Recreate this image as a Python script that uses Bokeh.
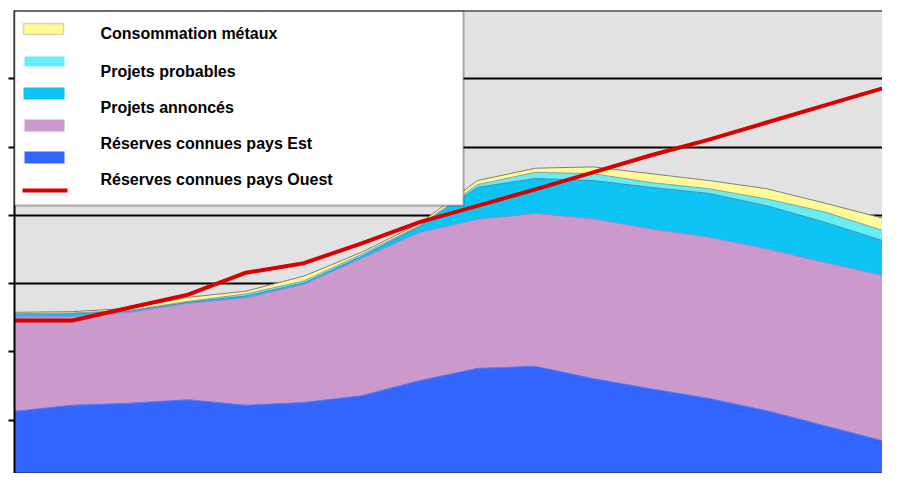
import numpy as np
from bokeh.plotting import figure
from bokeh.models import FixedTicker, BoxAnnotation, Label, Span, Range1d, ColumnDataSource
from bokeh.embed import file_html
from bokeh.resources import INLINE

# ---- data (arbitrary units, 0..7 scale) ----
periodes = list(range(16))
reserves_base = [1.13, 1.22, 1.25, 1.30, 1.22, 1.26, 1.36, 1.58, 1.76, 1.79, 1.61, 1.46, 1.32, 1.14, 0.92, 0.70]
reserves_est = [1.38, 1.30, 1.33, 1.41, 1.57, 1.73, 2.01, 2.17, 2.18, 2.24, 2.34, 2.34, 2.36, 2.37, 2.39, 2.42]
projets_annonces = [0.04, 0.04, 0.02, 0.02, 0.03, 0.02, 0.03, 0.09, 0.47, 0.51, 0.56, 0.61, 0.64, 0.63, 0.59, 0.51]
projets_probables = [0.01, 0.01, 0.01, 0.01, 0.03, 0.03, 0.03, 0.01, 0.04, 0.09, 0.10, 0.07, 0.07, 0.10, 0.15, 0.15]
consommation = [0.02, 0.02, 0.03, 0.06, 0.04, 0.07, 0.03, 0.03, 0.06, 0.06, 0.10, 0.13, 0.12, 0.15, 0.13, 0.18]
reserves_ouest = [2.46, 2.46, 2.65, 2.84, 3.16, 3.30, 3.59, 3.90, 4.14, 4.38, 4.63, 4.88, 5.11, 5.36, 5.61, 5.86]
y_ticks = [1, 2, 3, 4, 5, 6]

legend_labels = ["Consommation métaux", "Projets probables", "Projets annoncés",
                 "Réserves connues pays Est", "Réserves connues pays Ouest"]

# ---- colours ----
C_BASE = "#3366FF"
C_EST = "#CC99CC"
C_ANN = "#0DC4F5"
C_PROB = "#66EEF5"
C_CONS = "#FFFA96"
C_RED = "#D90000"

W, H = 882, 473
TOP = 10
LEFT = 14
FRAME_H = H - TOP
Y_START = 0.22   # lower bound of the visible value range (the bottom of the chart is cut)

src = ColumnDataSource(dict(x=periodes, base=reserves_base, est=reserves_est, ann=projets_annonces,
                            prob=projets_probables, cons=consommation, ouest=reserves_ouest))

p = figure(width=W, height=H, output_backend="svg", toolbar_location=None,
           x_range=Range1d(0, 15), y_range=Range1d(Y_START, 7), x_axis_location=None,
           min_border_left=LEFT, min_border_right=0, min_border_top=TOP, min_border_bottom=0,
           background_fill_color="#E2E2E2", border_fill_color="white", outline_line_color=None)

# axis (no labels, outward ticks)
p.yaxis.ticker = FixedTicker(ticks=y_ticks)
p.yaxis.major_label_overrides = {t: "" for t in y_ticks}
p.yaxis.major_label_standoff = 0
p.yaxis.major_tick_out = 6
p.yaxis.major_tick_in = 0
p.yaxis.minor_tick_line_color = None
p.yaxis.axis_line_width = 2
p.yaxis.major_tick_line_width = 2
p.yaxis.axis_line_color = "black"
p.yaxis.major_tick_line_color = "black"

p.xgrid.visible = False
p.ygrid.ticker = FixedTicker(ticks=y_ticks)
p.ygrid.grid_line_color = "black"
p.ygrid.grid_line_width = 2

# stacked areas
p.varea_stack(["base", "est", "ann", "prob", "cons"], x="x", source=src,
              color=[C_BASE, C_EST, C_ANN, C_PROB, C_CONS])

cum = np.cumsum(np.array([reserves_base, reserves_est, projets_annonces, projets_probables, consommation]), axis=0)
edge_colors = ["#5577EE", "#9A88D0", "#3D8FB8", "#8A9FA6", "#7F7F7F"]
for i, col in enumerate(edge_colors):
    p.line(periodes, cum[i], line_color=col, line_width=1)

# red line
p.line("x", "ouest", source=src, line_color=C_RED, line_width=4)

# frame top / bottom lines
p.add_layout(Span(location=7, dimension="width", line_color="black", line_width=2, level="overlay"))
p.add_layout(Span(location=Y_START, dimension="width", line_color="#222222", line_width=2, level="overlay"))

# ---- manual legend (screen units, relative to the frame) ----
def box(l, r, t, b, fill, line=None, lw=1):
    p.add_layout(BoxAnnotation(left=l, right=r, top=FRAME_H - t, bottom=FRAME_H - b,
                               left_units="screen", right_units="screen",
                               top_units="screen", bottom_units="screen",
                               fill_color=fill, fill_alpha=1.0,
                               line_color=line, line_width=lw, level="annotation"))

box(0, 449, 0, 195, "white", "black", 2)
box(9, 49, 13, 24, C_CONS, "#7F7F7F", 1.5)
box(10, 50, 46, 56, C_PROB)
box(9, 50, 77, 89, C_ANN)
box(10, 50, 109, 121, C_EST)
box(10, 50, 141, 153, C_BASE)
box(8, 53, 178, 182, C_RED)

baselines = [23, 61, 97, 133, 169]
for lab, bl in zip(legend_labels, baselines):
    p.add_layout(Label(x=86, y=FRAME_H - bl, x_units="screen", y_units="screen", text=lab,
                       text_font="Liberation Sans", text_font_style="bold",
                       text_font_size="16px", text_color="black", text_baseline="alphabetic"))

open("out.html", "w").write(file_html(p, INLINE))
